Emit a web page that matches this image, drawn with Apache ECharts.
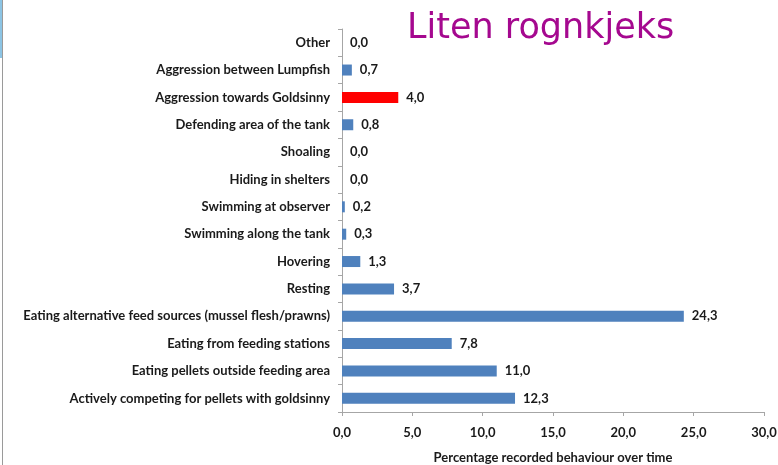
<!DOCTYPE html>
<html>
<head>
<meta charset="utf-8">
<script src="https://cdn.jsdelivr.net/npm/echarts@6/dist/echarts.min.js"></script>
<style>
  html, body { margin: 0; padding: 0; background: #fff; }
  #main { width: 778px; height: 465px; }
</style>
</head>
<body>
<div id="main"></div>
<script>
// categories from top to bottom, as in the picture
var behaviours = [
    'Other',
    'Aggression between Lumpfish',
    'Aggression towards Goldsinny',
    'Defending area of the tank',
    'Shoaling',
    'Hiding in shelters',
    'Swimming at observer',
    'Swimming along the tank',
    'Hovering',
    'Resting',
    'Eating alternative feed sources (mussel flesh/prawns)',
    'Eating from feeding stations',
    'Eating pellets outside feeding area',
    'Actively competing for pellets with goldsinny'
];
var percent = [0.0, 0.7, 4.0, 0.8, 0.0, 0.0, 0.2, 0.3, 1.3, 3.7, 24.3, 7.8, 11.0, 12.3];
var highlight = 'Aggression towards Goldsinny';

function komma(v) {
    return Number(v).toFixed(1).replace('.', ',');
}

var myChart = echarts.init(document.getElementById('main'));

var barData = [];
for (var i = 0; i < percent.length; i++) {
    barData.push({
        value: percent[i],
        itemStyle: { color: behaviours[i] == highlight ? '#ff0000' : '#4f81bd' }
    });
}

var option = {
    animation: false,
    textStyle: { fontFamily: 'Lato' },
    title: {
        text: 'Liten rognkjeks',
        left: 402,
        top: 6,
        textStyle: {
            fontFamily: 'DejaVu Sans',
            fontWeight: 'normal',
            fontSize: 35,
            color: '#a5088f'
        }
    },
    graphic: [
        { type: 'rect', shape: { x: 0, y: 0, width: 3, height: 58 }, style: { fill: '#8cc4e4' } },
        { type: 'line', shape: { x1: 2.5, y1: 0, x2: 2.5, y2: 465 }, style: { stroke: '#9a9a9a', lineWidth: 1 } }
    ],
    grid: {
        left: 342,
        right: 14,
        top: 29,
        bottom: 53,
        outerBoundsMode: 'none'
    },
    xAxis: {
        type: 'value',
        min: 0,
        max: 30,
        interval: 5,
        name: 'Percentage recorded behaviour over time',
        nameLocation: 'middle',
        nameGap: 39,
        nameTextStyle: { fontSize: 13, fontWeight: 'bold', color: '#1a1a1a' },
        axisLine: { show: true, lineStyle: { color: '#a6a6a6' } },
        axisTick: { show: true, length: 4, lineStyle: { color: '#a6a6a6' } },
        splitLine: { show: false },
        axisLabel: {
            fontSize: 13,
            fontWeight: 'bold',
            color: '#1a1a1a',
            margin: 14,
            formatter: komma
        }
    },
    yAxis: {
        type: 'category',
        inverse: true,
        data: behaviours,
        axisLine: { show: true, lineStyle: { color: '#a6a6a6' } },
        axisTick: { show: true, length: 4, lineStyle: { color: '#a6a6a6' } },
        axisLabel: {
            fontSize: 13,
            fontWeight: 'bold',
            color: '#1a1a1a',
            margin: 12
        }
    },
    series: [
        {
            type: 'bar',
            barWidth: 11,
            data: barData,
            label: {
                show: true,
                position: 'right',
                distance: 8,
                fontSize: 13,
                fontWeight: 'bold',
                color: '#1a1a1a',
                formatter: function (p) { return komma(p.value); }
            }
        }
    ]
};

myChart.setOption(option);

window.onresize = function () {
    myChart.resize();
};
</script>
</body>
</html>
